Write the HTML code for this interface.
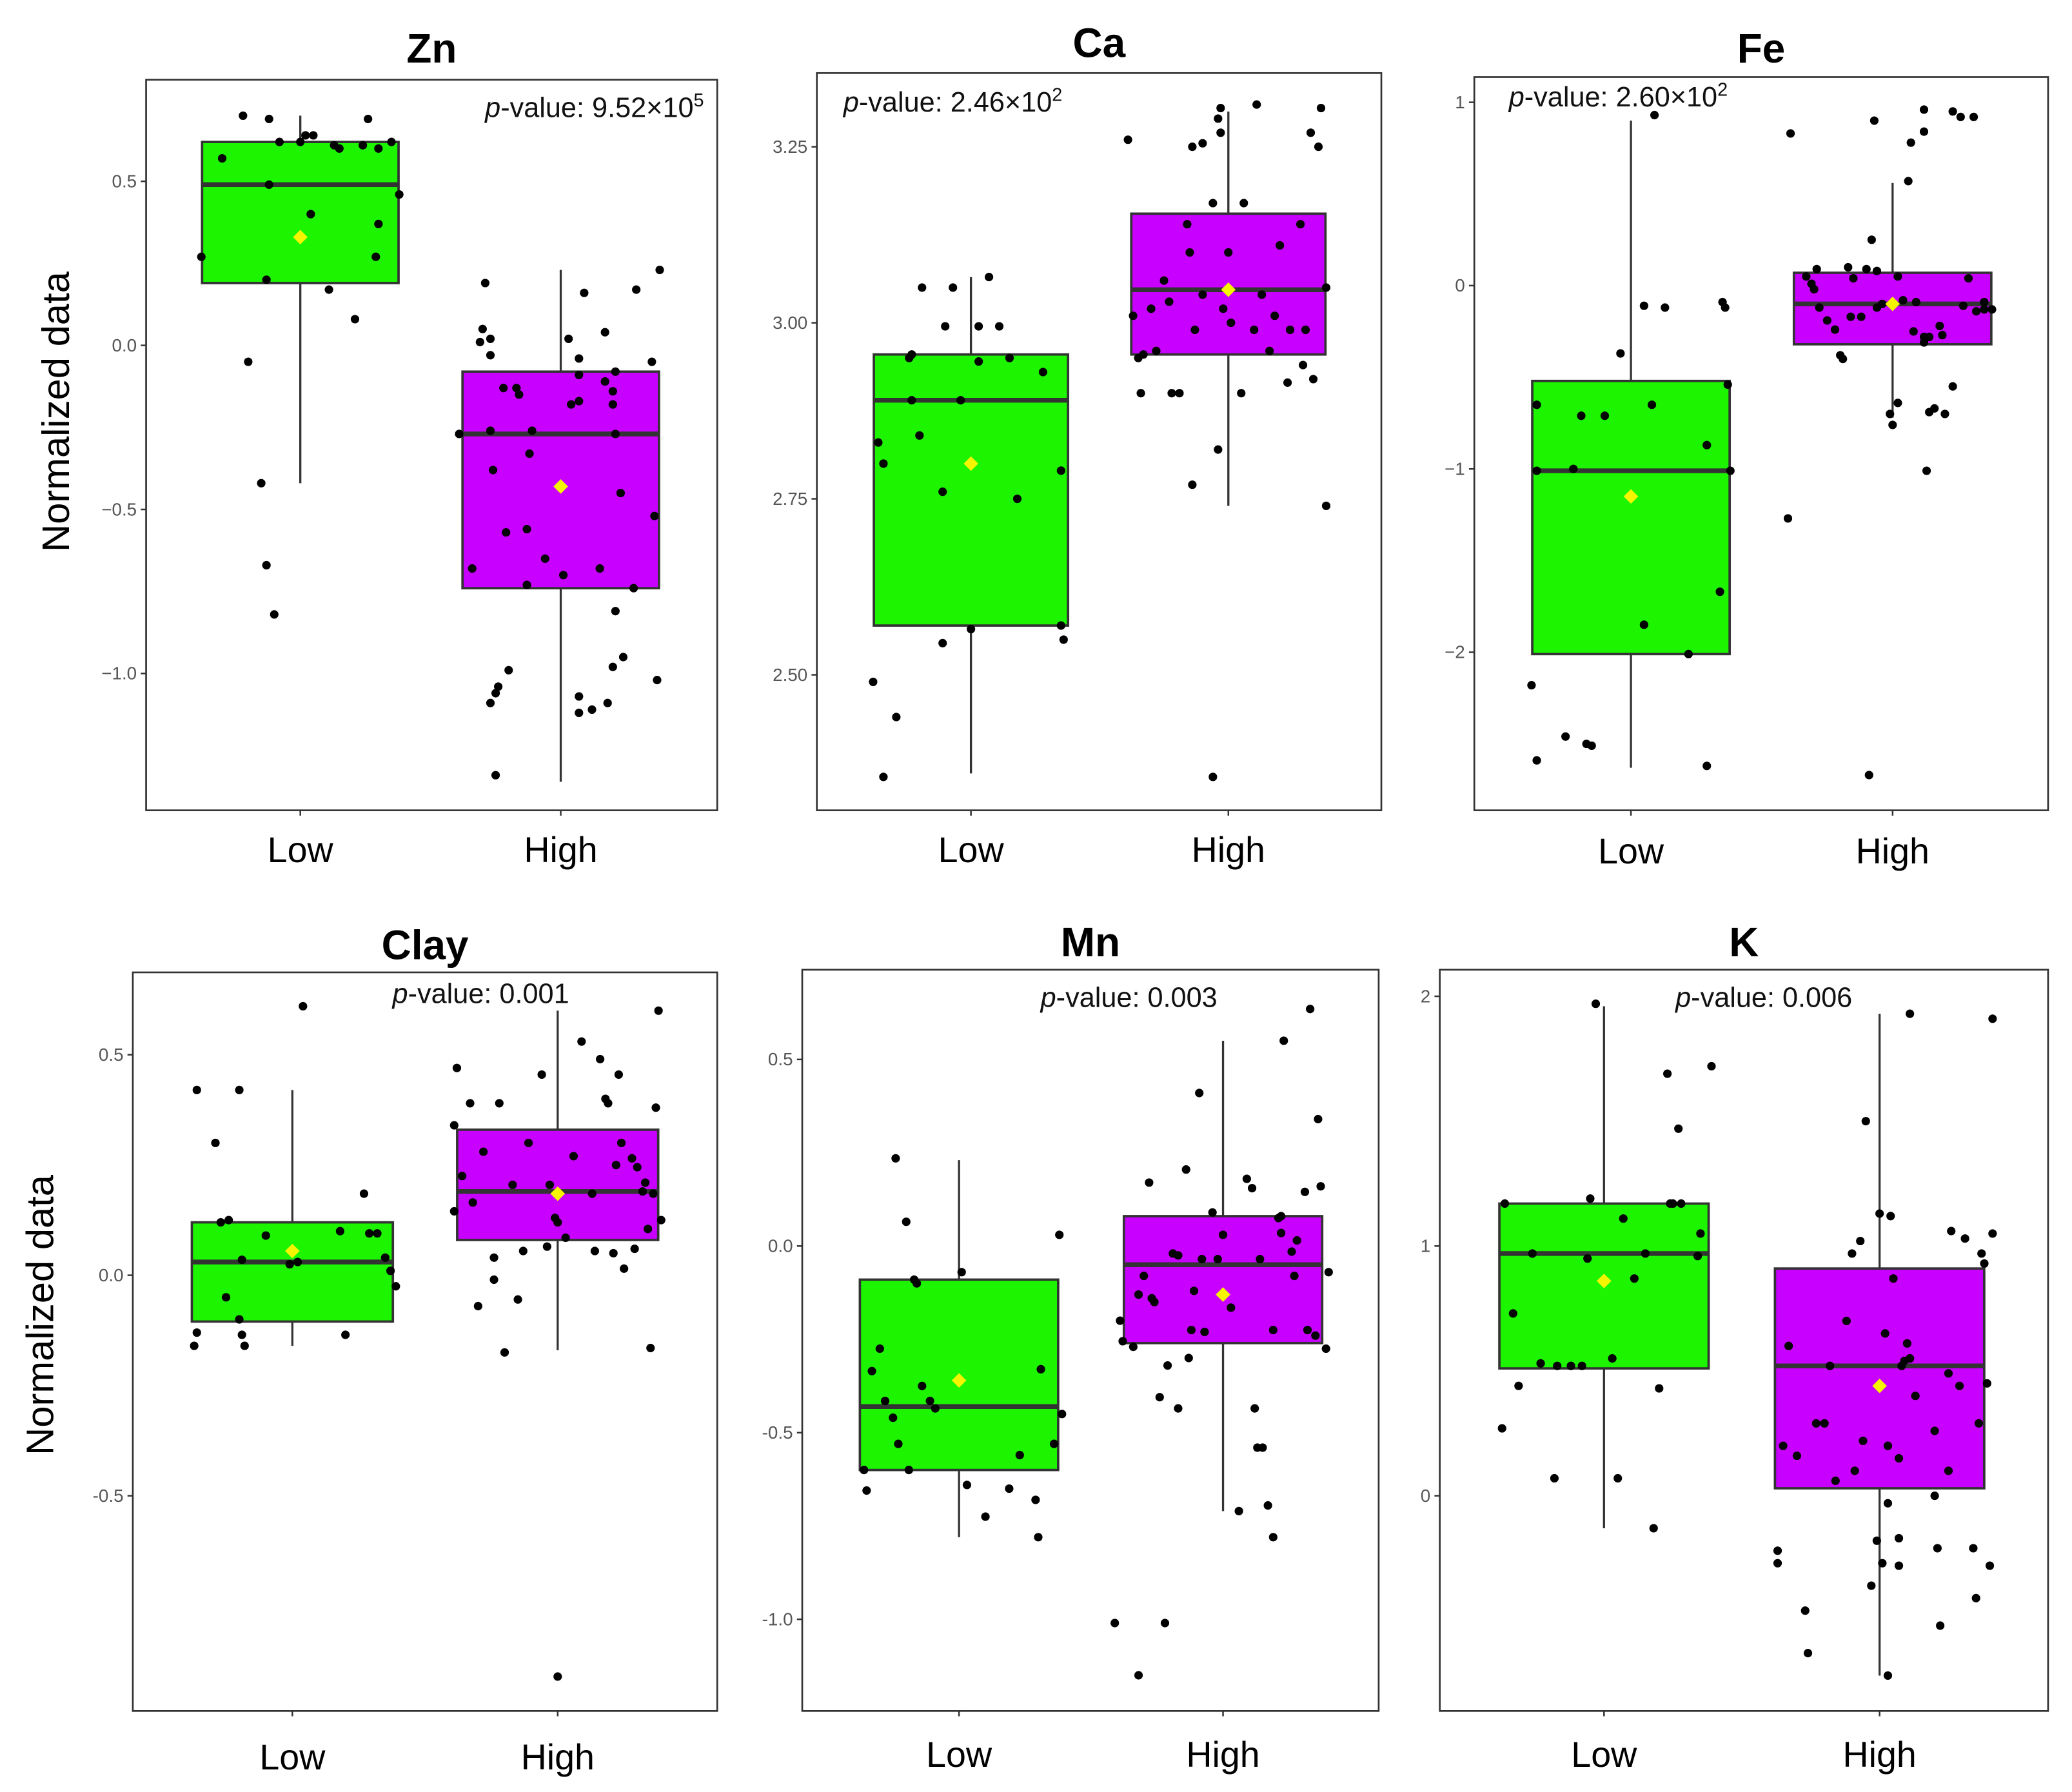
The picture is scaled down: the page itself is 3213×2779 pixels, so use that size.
<!DOCTYPE html>
<html><head><meta charset="utf-8"><style>
html,body{margin:0;padding:0;background:#fff;}
svg{display:block;font-family:"Liberation Sans",Arial,sans-serif;}
</style></head><body>
<svg id="chart" width="3213" height="2779" viewBox="0 0 1560 1349" preserveAspectRatio="none" xmlns="http://www.w3.org/2000/svg"></svg>
<script>
const groups = ["Low","High"];
const panelNames = ["Zn","Ca","Fe","Clay","Mn","K"];
const pValues = ["9.52×10","2.46×10","2.60×10","0.001","0.003","0.006"];
const pSup = ["5","2","2","","",""];
const yTicksZn = [0.5,0.0,-0.5,-1.0];
const yTicksCa = [3.25,3.00,2.75,2.50];
const yTicksFe = [1,0,-1,-2];
const yTicksClay = [0.5,0.0,-0.5];
const yTicksMn = [0.5,0.0,-0.5,-1.0];
const yTicksK = [2,1,0];
const tickLabelsZn = ["0.5","0.0","\u22120.5","\u22121.0"];
const tickLabelsCa = ["3.25","3.00","2.75","2.50"];
const tickLabelsFe = ["1","0","\u22121","\u22122"];
const tickLabelsClay = ["0.5","0.0","-0.5"];
const tickLabelsMn = ["0.5","0.0","-0.5","-1.0"];
const tickLabelsK = ["2","1","0"];
// box stats: [lowerWhisker, q1, median, q3, upperWhisker, mean]
const statsZnLow = [-0.42,0.19,0.49,0.62,0.70,0.33];
const statsZnHigh = [-1.33,-0.74,-0.27,-0.08,0.23,-0.43];
const statsCaLow = [2.36,2.57,2.89,2.955,3.065,2.80];
const statsCaHigh = [2.74,2.955,3.047,3.155,3.30,3.047];
const statsFeLow = [-2.63,-2.01,-1.01,-0.52,0.90,-1.15];
const statsFeHigh = [-0.72,-0.32,-0.10,0.07,0.56,-0.10];
const statsClayLow = [-0.16,-0.105,0.03,0.12,0.42,0.055];
const statsClayHigh = [-0.17,0.08,0.19,0.33,0.60,0.185];
const statsMnLow = [-0.78,-0.60,-0.43,-0.09,0.23,-0.36];
const statsMnHigh = [-0.71,-0.26,-0.05,0.08,0.55,-0.13];
const statsKLow = [-0.13,0.51,0.97,1.17,1.96,0.86];
const statsKHigh = [-0.72,0.03,0.52,0.91,1.93,0.44];
// points: values and jitter (percent of category spacing)
const valZnLow = [0.27,0.57,0.70,-0.05,-0.42,0.20,-0.67,0.69,-0.82,0.62,0.49,0.62,0.64,0.40,0.64,0.17,0.61,0.60,0.08,0.61,0.69,0.27,0.60,0.37,0.62,0.46];
const jitZnLow = [-38,-30,-22,-20,-15,-13,-13,-12,-10,-8,-12,0,2,4,5,11,13,15,21,24,26,29,30,30,35,38];
const valZnHigh = [-1.31,-1.09,-1.06,-1.04,-0.99,-0.56,-0.73,-0.26,-0.33,-0.65,-0.70,0.02,-0.04,-0.09,-0.18,-0.17,0.16,0.04,-0.11,-0.14,-0.08,-0.18,-0.27,-0.68,-0.45,-0.81,-0.98,-0.95,-1.09,-1.11,-1.07,-1.12,-0.74,0.17,-0.05,-0.52,-1.02,0.23,-0.26,-0.38,-0.57,-0.13,-0.13,-0.15,0.19,0.05,0.01,0.02,-0.03,-0.27,-0.68];
const jitZnHigh = [-25,-27,-25,-24,-20,-13,-13,-11,-12,-6,1,3,7,7,4,7,9,17,17,20,21,20,21,15,23,21,20,24,18,12,7,7,28,29,35,36,37,38,-27,-26,-21,-22,-17,-16,-29,-30,-31,-27,-27,-39,-34];
const valCaLow = [2.49,2.83,2.80,2.355,2.44,2.95,2.955,2.89,2.84,3.05,2.545,2.76,2.995,3.05,2.89,2.565,2.945,2.995,3.065,2.995,2.95,2.75,2.93,2.79,2.57,2.55];
const jitCaLow = [-38,-36,-34,-34,-29,-24,-23,-23,-20,-19,-11,-11,-10,-7,-4,0,3,3,7,11,15,18,28,35,35,36];
const valCaHigh = [3.26,3.01,2.95,2.90,2.955,3.02,2.96,3.06,3.03,2.90,2.90,3.14,3.10,2.77,3.25,2.99,3.255,3.17,2.355,2.82,3.29,3.305,3.27,3.02,3.10,3.00,2.90,3.17,3.31,3.04,2.96,3.11,2.915,2.99,3.14,2.94,2.99,3.27,2.92,3.25,3.305,2.74,3.05,3.01,2.99,3.04];
const jitCaHigh = [-39,-37,-35,-34,-33,-30,-28,-25,-23,-22,-19,-16,-15,-14,-14,-13,-10,-6,-6,-4,-4,-3,-3,-2,0,1,5,6,11,13,16,20,23,24,28,29,30,32,33,35,36,38,38,18,10,-10];
const valFeLow = [-2.18,-2.59,-1.01,-0.65,-2.46,-1.0,-0.71,-2.5,-2.51,-0.71,-0.37,-0.11,-1.85,0.93,-0.65,-0.12,-2.01,-2.62,-0.87,-1.67,-0.09,-0.12,-1.01,-0.54];
const jitFeLow = [-38,-36,-36,-36,-25,-22,-19,-17,-15,-10,-4,5,5,9,8,13,22,29,29,34,35,36,38,37];
const valFeHigh = [-1.27,0.83,0.05,0.01,-0.02,0.09,-0.12,-0.19,-0.24,-0.38,-0.40,0.10,-0.17,0.04,-0.17,0.09,-2.67,0.25,0.90,-0.12,0.08,-0.10,-0.70,-0.76,-0.64,0.05,-0.08,0.57,0.78,-0.25,-0.09,-0.31,-0.28,-1.01,-0.69,-0.28,0.84,0.96,-0.67,-0.22,-0.27,-0.70,0.95,-0.55,0.92,-0.11,0.04,0.92,-0.14,-0.09,-0.13,-0.13];
const jitFeHigh = [-40,-39,-33,-31,-30,-29,-28,-25,-22,-20,-19,-17,-16,-15,-12,-10,-9,-8,-7,-6,-6,-4,-1,0,2,2,4,6,7,8,9,12,12,13,14,14,12,12,16,18,19,20,23,23,26,27,29,31,32,35,35,38];
const valClayLow = [-0.16,0.42,-0.13,0.30,0.12,-0.05,0.125,0.42,-0.10,-0.16,0.035,-0.135,0.09,0.025,0.61,0.03,0.10,-0.135,0.185,0.095,0.095,0.04,0.01,-0.025];
const jitClayLow = [-37,-36,-36,-29,-27,-25,-24,-20,-20,-18,-19,-19,-10,-1,4,2,18,20,27,29,32,35,37,39];
const valClayHigh = [0.34,0.145,0.47,0.225,0.39,0.165,-0.07,0.28,0.04,-0.01,0.39,-0.175,0.205,-0.055,0.055,0.30,0.455,0.065,0.205,0.13,0.12,0.085,0.27,0.53,0.185,0.055,0.49,0.40,0.39,0.05,0.25,0.455,0.30,0.015,0.265,0.06,0.19,0.21,0.105,-0.165,0.185,0.38,0.60,0.125,0.245,-0.91];
const jitClayHigh = [-39,-39,-38,-36,-33,-32,-30,-28,-24,-24,-22,-20,-17,-15,-13,-11,-6,-4,-3,-1,0,3,6,9,13,14,16,18,19,21,22,23,24,25,28,29,32,33,34,35,36,37,38,39,30,0];
const valMnLow = [-0.60,-0.655,-0.335,-0.275,-0.415,-0.46,0.235,-0.53,0.065,-0.60,-0.09,-0.10,-0.375,-0.415,-0.435,-0.07,-0.64,-0.725,-0.65,-0.56,-0.68,-0.78,-0.33,-0.53,0.03,-0.45];
const jitMnLow = [-36,-35,-33,-30,-28,-25,-24,-23,-20,-19,-17,-16,-14,-11,-9,1,3,10,19,23,29,30,31,36,38,39];
const valMnHigh = [-1.01,-0.20,-0.255,-0.27,-1.15,-0.13,-0.08,0.17,-0.14,-0.15,-0.405,-1.01,-0.32,-0.02,-0.025,-0.435,0.205,-0.30,-0.225,-0.12,0.41,-0.035,-0.23,0.09,-0.035,0.03,-0.165,-0.71,0.18,0.155,-0.435,-0.54,-0.54,-0.035,-0.695,-0.78,-0.225,0.075,0.08,0.035,0.55,-0.015,0.015,0.145,-0.225,0.635,-0.24,0.34,0.16,-0.275,-0.07,-0.08];
const jitMnHigh = [-41,-39,-38,-34,-32,-32,-30,-28,-27,-26,-24,-22,-21,-19,-17,-17,-14,-13,-12,-11,-9,-8,-7,-4,-2,0,3,6,9,11,12,13,15,14,17,19,19,21,22,22,23,26,28,31,32,33,35,36,37,39,40,27];
const valKLow = [0.27,1.17,0.73,0.44,0.97,0.53,0.07,0.52,0.52,0.52,0.95,1.19,1.97,0.55,0.07,1.11,0.87,0.97,-0.13,0.43,1.69,1.17,1.47,1.17,0.96,1.05,1.72,1.17];
const jitKLow = [-37,-36,-33,-31,-26,-23,-18,-17,-12,-8,-6,-5,-3,3,5,7,11,15,18,20,23,25,27,28,34,35,39,24];
const valKHigh = [-0.22,-0.27,0.20,0.60,0.16,-0.46,-0.63,0.29,0.29,0.52,0.06,0.70,0.97,0.10,1.02,0.22,1.50,-0.36,-0.18,-0.27,0.65,0.20,-0.03,1.12,0.87,0.15,-0.17,-0.28,0.52,0.54,0.61,0.55,0.40,0.0,0.26,-0.21,-0.52,0.10,0.49,1.06,0.44,1.03,-0.21,-0.41,0.29,0.97,0.93,0.45,-0.28,1.05,1.91,-0.72,1.93,1.13,0.55];
const jitKHigh = [-37,-37,-35,-33,-30,-27,-26,-23,-20,-18,-16,-12,-10,-9,-7,-6,-5,-3,-1,1,2,3,3,4,5,7,7,7,8,9,10,11,13,20,20,21,22,25,25,26,29,31,34,35,36,37,38,39,40,41,41,3,11,0,11];

const svg = document.getElementById('chart');
const NS = 'http://www.w3.org/2000/svg';
function mk(tag, attrs, parent){
  const e = document.createElementNS(NS, tag);
  for (const k in attrs) e.setAttribute(k, attrs[k]);
  (parent||svg).appendChild(e);
  return e;
}
// panel layout (geometry only)
const layout = [
  {x0:110,x1:540,y0:60,y1:610, c:[0.270,0.726], a:0.0,ya:260, b:-1.0,yb:507, ty:47, px:530, py:88, anchor:'end', xl:649, yt:true, tx:42, tyc:310},
  {x0:615,x1:1040,y0:55,y1:610, c:[0.273,0.729], a:3.0,ya:243, b:2.5,yb:508, ty:43, px:635, py:84, anchor:'start', xl:649},
  {x0:1110,x1:1542,y0:58,y1:610, c:[0.273,0.729], a:0,ya:215, b:-2,yb:491, ty:47, px:1136, py:80, anchor:'start', xl:650},
  {x0:100,x1:540,y0:732,y1:1288, c:[0.273,0.727], a:0,ya:960, b:-0.5,yb:1126, ty:722, px:362, py:755, anchor:'middle', xl:1332, yt:true, tx:30, tyc:990},
  {x0:604,x1:1038,y0:730,y1:1288, c:[0.272,0.73], a:0,ya:938, b:-1.0,yb:1219, ty:720, px:850, py:758, anchor:'middle', xl:1330},
  {x0:1084,x1:1542,y0:730,y1:1288, c:[0.27,0.723], a:0,ya:1126, b:1,yb:938, ty:720, px:1328, py:758, anchor:'middle', xl:1330}
];
const ticks = [yTicksZn,yTicksCa,yTicksFe,yTicksClay,yTicksMn,yTicksK];
const tickLabels = [tickLabelsZn,tickLabelsCa,tickLabelsFe,tickLabelsClay,tickLabelsMn,tickLabelsK];
const stats = [[statsZnLow,statsZnHigh],[statsCaLow,statsCaHigh],[statsFeLow,statsFeHigh],[statsClayLow,statsClayHigh],[statsMnLow,statsMnHigh],[statsKLow,statsKHigh]];
const vals = [[valZnLow,valZnHigh],[valCaLow,valCaHigh],[valFeLow,valFeHigh],[valClayLow,valClayHigh],[valMnLow,valMnHigh],[valKLow,valKHigh]];
const jits = [[jitZnLow,jitZnHigh],[jitCaLow,jitCaHigh],[jitFeLow,jitFeHigh],[jitClayLow,jitClayHigh],[jitMnLow,jitMnHigh],[jitKLow,jitKHigh]];
const fills = ['#1cf400','#c800ff'];

panelNames.forEach((name, pi) => {
  const L = layout[pi];
  const g = mk('g', {});
  
  
  const yS = v => L.ya + (v - L.a) * (L.yb - L.ya) / (L.b - L.a);
  const W = L.x1 - L.x0;
  const unit = W * (L.c[1] - L.c[0]);
  const xS = (gi, j) => L.x0 + W * L.c[gi] + unit * (j||0) / 100;
  const fr = mk('rect', {x:L.x0, y:L.y0, width:W, height:L.y1-L.y0, fill:'#fff', stroke:'#333', 'stroke-width':1.3}, g);
  
  
  const t = mk('text', {x:(L.x0+L.x1)/2, y:L.ty, 'text-anchor':'middle', 'font-size':31, 'font-weight':'bold', fill:'#000'}, g);
  t.textContent = name;
  
  
  ticks[pi].forEach((tv, ti) => {
    const y = yS(tv);
    const tk = mk('line', {x1:L.x0-4, x2:L.x0, y1:y, y2:y, stroke:'#333', 'stroke-width':1.2}, g);
    
    
    const tl = mk('text', {x:L.x0-7, y:y+4.5, 'text-anchor':'end', 'font-size':13.5, fill:'#555'}, g);
    tl.textContent = tickLabels[pi][ti];
    
    
  });
  groups.forEach((gn, gi) => {
    const cx = xS(gi, 0);
    const s = stats[pi][gi];
    const hw = W * 0.172;
    const xt = mk('line', {x1:cx, x2:cx, y1:L.y1, y2:L.y1+4, stroke:'#333', 'stroke-width':1.2}, g);
    
    
    const xl = mk('text', {x:cx, y:L.xl, 'text-anchor':'middle', 'font-size':27, fill:'#000'}, g);
    xl.textContent = gn;
    
    
    const wh = mk('line', {x1:cx, x2:cx, y1:yS(s[0]), y2:yS(s[4]), stroke:'#333', 'stroke-width':1.6}, g);
    
    
    const bx = mk('rect', {x:cx-hw, y:yS(s[3]), width:2*hw, height:yS(s[1])-yS(s[3]), fill:fills[gi], stroke:'#333', 'stroke-width':1.8}, g);
    
    
    const md = mk('line', {x1:cx-hw, x2:cx+hw, y1:yS(s[2]), y2:yS(s[2]), stroke:'#333', 'stroke-width':3.6}, g);
    
    
    const v = vals[pi][gi], jj = jits[pi][gi];
    v.forEach((val, k) => {
      const c = mk('circle', {cx:xS(gi, jj[k]), cy:yS(val), r:3.2, fill:'#000'}, g);
      
      
    });
    const my = yS(s[5]), d = 5.5;
    const mn = mk('polygon', {points:`${cx},${my-d} ${cx+d},${my} ${cx},${my+d} ${cx-d},${my}`, fill:'#f5f500'}, g);
    
    
  });
  const p = mk('text', {x:L.px, y:L.py, 'text-anchor':L.anchor, 'font-size':21, fill:'#111'}, g);
  
  
  const it = mk('tspan', {'font-style':'italic'}, p); it.textContent = 'p';
  const rest = mk('tspan', {}, p); rest.textContent = '-value: ' + pValues[pi];
  if (pSup[pi]) { const su = mk('tspan', {dy:-8, 'font-size':14}, p); su.textContent = pSup[pi]; }
  if (L.yt) {
    const yt = mk('text', {x:0, y:0, transform:`translate(${L.tx+10},${L.tyc}) rotate(-90)`, 'text-anchor':'middle', 'font-size':29, fill:'#000'}, g);
    yt.textContent = 'Normalized data';
    
    
  }
});
</script>
</body></html>
